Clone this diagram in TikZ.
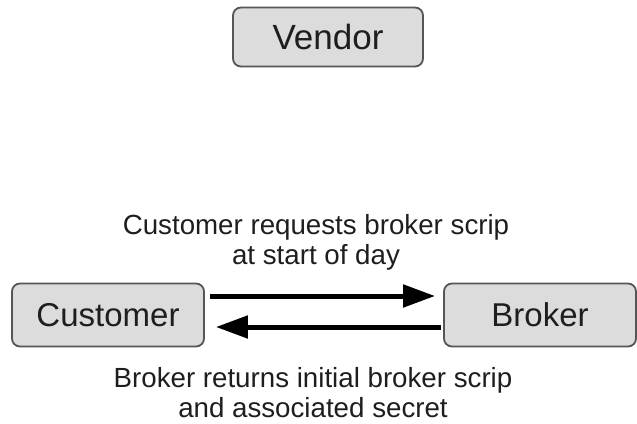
\documentclass[tikz,border=0pt]{standalone}
\usepackage{fontspec}
\setmainfont{Liberation Sans}
\usetikzlibrary{arrows.meta,calc}
\definecolor{boxfill}{HTML}{DCDCDC}
\definecolor{boxline}{HTML}{555555}
\definecolor{txt}{HTML}{1E1E1E}
\begin{document}
\begin{tikzpicture}[x=1pt,y=-1pt,
  entity/.style={draw=boxline, line width=1.8pt, fill=boxfill, rounded corners=8pt,
    minimum width=192pt, minimum height=63pt, inner sep=0pt, text=txt,
    font=\fontsize{33}{36}\selectfont},
  msg/.style={text=txt, align=center, font=\fontsize{27.7}{30}\selectfont, inner sep=0pt},
  arr/.style={line width=5pt, -{Triangle[length=32pt,width=22pt]}}]
\useasboundingbox (0,0) rectangle (637,423);
\node[entity, minimum width=190pt, minimum height=59pt, font=\fontsize{35}{38}\selectfont] (Vendor) at (328,37) {Vendor};
\node[entity] (Customer) at (108,315) {Customer};
\node[entity] (Broker) at (540,315) {Broker};
\coordinate (c1) at ($(Customer.east)+(5,-19)$);
\coordinate (b1) at ($(Broker.west)+(-8,-19)$);
\coordinate (b2) at ($(Broker.west)+(-2,12)$);
\coordinate (c2) at ($(Customer.east)+(11,12)$);
\draw[arr] (c1) -- (b1);
\draw[arr] (b2) -- (c2);
\node[msg] (reqlabel) at (316,242) {Customer requests broker scrip\\at start of day};
\node[msg] (retlabel) at (313,393) {Broker returns initial broker scrip\\and associated secret};
\end{tikzpicture}
\end{document}
